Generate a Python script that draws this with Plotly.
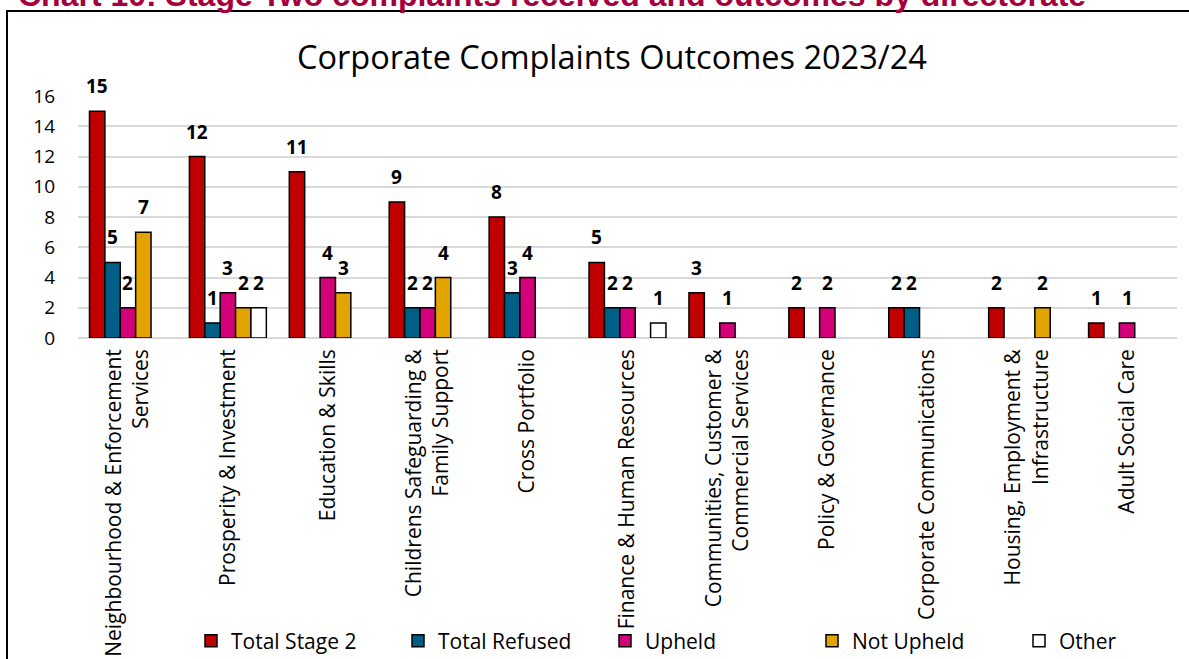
import plotly.graph_objects as go

categories = [
    "Neighbourhood & Enforcement<br>Services",
    "Prosperity & Investment",
    "Education & Skills",
    "Childrens Safeguarding &<br>Family Support",
    "Cross Portfolio",
    "Finance & Human Resources",
    "Communities, Customer &<br>Commercial Services",
    "Policy & Governance",
    "Corporate Communications",
    "Housing, Employment &<br>Infrastructure",
    "Adult Social Care",
]
total_stage2 = [15, 12, 11, 9, 8, 5, 3, 2, 2, 2, 1]
total_refused = [5, 1, None, 2, 3, 2, None, None, 2, None, None]
upheld = [2, 3, 4, 2, 4, 2, 1, 2, None, None, 1]
not_upheld = [7, 2, 3, 4, None, None, None, None, None, 2, None]
other = [None, 2, None, None, None, 1, None, None, None, None, None]

series = [
    ("Total Stage 2", total_stage2, "#C00000"),
    ("Total Refused", total_refused, "#005F86"),
    ("Upheld", upheld, "#D4007A"),
    ("Not Upheld", not_upheld, "#E3A300"),
    ("Other", other, "#FFFFFF"),
]

FONT = "Open Sans"
BARGAP = 0.23
fig = go.Figure()
for name, vals, col in series:
    fig.add_trace(go.Bar(
        name=name, x=categories, y=vals,
        marker=dict(color=col, line=dict(color="black", width=1.5)),
    ))

W, H = 1189, 659
L, R, T, B = 78, 12, 96, 321
pw, ph = W - L - R, H - T - B

def px(x):
    return (x - L) / pw

def py(y):
    return (H - B - y) / ph

# data labels placed above each bar via the category axis (index + group offset)
annotations = []
n = len(series)
slot = (1 - BARGAP) / n
for j, (name, vals, col) in enumerate(series):
    for i, v in enumerate(vals):
        if v is None:
            continue
        annotations.append(dict(
            x=i - (1 - BARGAP) / 2 + slot * (j + 0.5), y=v, xref="x", yref="y",
            text=f"<b>{v}</b>", showarrow=False, yanchor="bottom", xanchor="center",
            yshift=10, font=dict(family=FONT, size=19, color="black")))

annotations += [
    dict(text="Corporate Complaints Outcomes 2023/24", xref="paper", yref="paper",
         x=px(612), y=py(57), xanchor="center", yanchor="middle", showarrow=False,
         font=dict(family=FONT, size=32.5, color="black")),
    dict(text="<b>Chart 10: Stage Two complaints received and outcomes by directorate</b>",
         xref="paper", yref="paper", x=px(16), y=py(-5), xanchor="left", yanchor="middle",
         showarrow=False, font=dict(family="Liberation Sans", size=32, color="#A5003C")),
]

fig.update_layout(
    width=W, height=H,
    margin=dict(l=L, r=R, t=T, b=B, autoexpand=False),
    paper_bgcolor="white", plot_bgcolor="white",
    barmode="group", bargap=BARGAP, bargroupgap=0,
    font=dict(family=FONT, size=21, color="black"),
    showlegend=True,
    legend=dict(orientation="h", x=px(191), y=py(641), xanchor="left", yanchor="middle",
                entrywidth=162, entrywidthmode="pixels", traceorder="normal",
                font=dict(family=FONT, size=21, color="black"), itemwidth=30,
                bgcolor="rgba(0,0,0,0)"),
    xaxis=dict(tickangle=-90, showgrid=False, showline=False, ticks="", automargin=False,
               ticklabelstandoff=6,
               tickfont=dict(family=FONT, size=21, color="black")),
    yaxis=dict(range=[0, 16], dtick=2, showgrid=True, gridcolor="#D9D9D9", gridwidth=1.5,
               zeroline=True, zerolinecolor="#D9D9D9", zerolinewidth=1.5, showline=False,
               ticks="", automargin=False, ticklabelstandoff=22,
               tickfont=dict(family=FONT, size=19, color="black")),
    shapes=[
        dict(type="rect", xref="paper", yref="paper", x0=px(7), x1=px(1250), y0=py(11), y1=py(720),
             line=dict(color="black", width=2), fillcolor="rgba(0,0,0,0)", layer="below"),
    ],
    annotations=annotations,
)

fig.write_html("out.html", config={"displayModeBar": False},
               post_script="document.body.style.margin='0';document.body.style.overflow='hidden';")
